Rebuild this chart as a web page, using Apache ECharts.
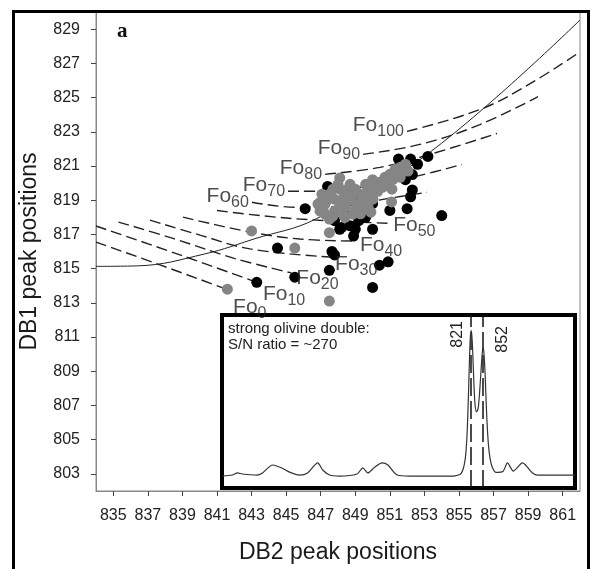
<!DOCTYPE html>
<html>
<head>
<meta charset="utf-8">
<script src="https://cdn.jsdelivr.net/npm/echarts@6/dist/echarts.min.js"></script>
<style>
  html, body { margin: 0; padding: 0; background: #fff; }
  #chart { width: 594px; height: 569px; }
</style>
</head>
<body>
<div id="chart"></div>
<script>
// tick labels
var xTicks = [835, 837, 839, 841, 843, 845, 847, 849, 851, 853, 855, 857, 859, 861];
var yTicks = [803, 805, 807, 809, 811, 813, 815, 817, 819, 821, 823, 825, 827, 829];

// measured olivine points [DB2, DB1]
var blackPts = [
  [853.2, 821.56], [852.2, 821.4], [852.6, 821.1], [851.5, 821.4], [852.3, 820.5],
  [851.9, 820.2], [852.3, 819.6], [852.2, 819.2], [852.0, 818.5], [851.0, 818.4],
  [854.0, 818.1], [850.0, 817.3], [848.9, 816.9], [847.4, 819.8], [846.1, 818.5],
  [844.5, 816.2], [847.65, 816.0], [847.8, 815.8], [850.4, 815.2], [850.9, 815.4],
  [847.5, 814.9], [845.5, 814.5], [843.3, 814.2], [850.0, 813.9],
  [847.8, 817.8], [848.2, 817.4], [848.7, 817.5], [849.2, 817.8], [849.6, 818.0],
  [848.4, 818.2], [850.0, 818.8], [848.1, 817.3], [849.0, 817.3]
];
var grayPts = [
  [848.1, 820.3], [843.0, 817.2], [847.5, 817.1], [845.5, 816.2], [851.1, 818.9],
  [841.6, 813.8], [847.5, 813.1],
  [847.25, 818.77], [847.5, 819.35], [847.8, 819.06], [848.1, 819.64], [848.4, 819.35],
  [848.7, 819.06], [849.0, 819.64], [849.3, 819.35], [849.6, 819.93], [848.4, 818.6],
  [847.8, 818.36], [847.25, 818.18], [849.0, 818.48], [849.6, 818.77], [849.85, 819.35],
  [850.14, 819.76], [850.43, 820.05], [850.72, 820.34], [851.0, 820.51], [851.3, 820.8],
  [851.6, 820.92], [851.9, 821.1], [852.05, 820.7], [851.6, 820.34], [850.9, 819.93],
  [850.3, 819.52], [848.7, 819.93], [848.1, 818.77], [847.5, 817.9], [846.96, 818.36],
  [849.3, 818.2], [850.0, 820.2], [848.4, 818.0], [847.0, 818.9], [849.9, 818.3],
  [847.07, 819.35], [847.42, 819.06], [847.71, 819.64], [848.0, 819.93], [848.29, 819.06],
  [848.58, 819.64], [848.87, 819.35], [849.16, 818.77], [849.45, 819.06], [849.74, 819.64],
  [850.02, 819.06], [846.84, 818.77], [847.13, 818.48], [847.71, 818.07], [848.29, 818.18],
  [848.87, 818.18], [849.45, 818.48], [849.74, 818.59], [850.6, 819.76], [851.18, 820.22],
  [851.47, 820.51], [851.76, 820.69], [851.12, 819.64]
];

// Fo contour curves
var fo0 = [[834.0, 816.55], [837.7, 815.22], [841.64, 813.76]];
var fo10 = [[834.0, 817.49], [838.86, 815.8], [843.37, 814.17]];
var fo20 = [[835.3, 817.72], [838.5, 816.75], [842.0, 815.6], [845.3, 814.75]];
var fo30 = [[837.12, 817.83], [840.02, 816.96], [842.91, 816.15], [847.54, 815.68]];
var fo40 = [[839.03, 818.01], [842.91, 817.14], [845.8, 816.73], [848.98, 816.61]];
var fo50 = [[841.0, 818.4], [843.5, 818.1], [846.5, 817.85], [850.9, 817.65]];
var fo60 = [[843.02, 818.88], [845.51, 818.59], [848.12, 818.65], [851.01, 819.12], [853.15, 819.46]];
var fo70 = [[845.11, 819.52], [847.25, 819.52], [850.43, 819.99], [852.74, 820.45], [855.17, 821.09]];
var fo80 = [[847.25, 820.51], [850.43, 820.92], [853.32, 821.68], [857.2, 822.9]];
var fo90 = [[849.45, 821.68], [852.74, 822.26], [856.21, 823.42], [859.57, 825.05]];
var fo100 = [[851.99, 823.02], [856.21, 824.3], [859.11, 825.81], [862.0, 827.67]];
var foValues = [0, 10, 20, 30, 40, 50, 60, 70, 80, 90, 100];
var foCurves = [fo0, fo10, fo20, fo30, fo40, fo50, fo60, fo70, fo80, fo90, fo100];

// solid reference curve
var solidCurve = [[834.0, 815.13], [836.4, 815.16], [840.3, 815.86], [843.2, 816.75],
  [846.7, 817.89], [853.3, 821.79], [862.0, 829.53]];

// inset spectrum [Raman shift, intensity]
var spectrum = [
  [176, 6.9], [202, 7.5], [215, 8.7], [228, 8.1], [265, 7.5], [280, 8.7], [306, 13.3],
  [330, 11.6], [350, 9.2], [376, 7.5], [397, 8.7], [423, 14.5], [436, 10.4], [454, 7.5],
  [480, 6.9], [525, 8.1], [540, 11.6], [553, 8.7], [571, 12.1], [590, 14.5], [605, 13.3],
  [629, 7.5], [662, 6.9], [774, 6.9], [795, 8.5], [805, 16], [810, 30], [814, 55],
  [817, 78], [819, 88], [821, 91], [823, 87], [825, 78], [828, 60], [831, 48], [835, 44],
  [839, 46], [843, 56], [847, 70], [850, 79], [852, 81], [854, 78], [857, 66], [860, 48],
  [864, 30], [868, 20], [874, 13], [885, 9], [903, 9.5], [915, 14.5], [930, 9.8],
  [954, 14.5], [980, 8.7], [993, 7.5], [1090, 7.5]
];
var peakPositions = [821, 852];

var FONT = '"Liberation Sans", Arial, sans-serif';
var chart = echarts.init(document.getElementById('chart'));

var series = [];
foCurves.forEach(function (c) {
  series.push({
    type: 'line', data: c, smooth: 0.4, symbol: 'none', z: 2,
    lineStyle: { color: '#222', width: 1.4, type: [11, 5] }
  });
});
series.push({
  type: 'line', data: solidCurve, smooth: 0.4, symbol: 'none', z: 2,
  lineStyle: { color: '#222', width: 1 }
});
series.push({
  type: 'scatter', data: blackPts, symbolSize: 11, z: 3,
  itemStyle: { color: '#000', opacity: 1 }
});
series.push({
  type: 'scatter', data: grayPts, symbolSize: 11, z: 4,
  itemStyle: { color: '#858585', opacity: 1 }
});

// Fo labels: low Fo at the right end of the curve (dropped a little), high Fo before the start
var endLabelDrop = [19, 13, 7, 9, 6, 4];
var labelData = foCurves.map(function (c, i) {
  var atEnd = foValues[i] <= 50;
  var p = atEnd ? c[c.length - 1] : c[0];
  return {
    value: p,
    label: {
      position: atEnd ? 'right' : 'left',
      distance: atEnd ? 5 : 3,
      offset: atEnd ? [0, endLabelDrop[i]] : [0, -4],
      formatter: '{f|Fo}{s|' + foValues[i] + '}'
    }
  };
});
series.push({
  type: 'scatter', data: labelData, symbolSize: 0, z: 6, silent: true,
  label: {
    show: true, lineHeight: 25,
    rich: {
      f: { fontSize: 21, lineHeight: 25, verticalAlign: 'top', color: '#222', fontFamily: FONT },
      s: { fontSize: 16, lineHeight: 25, verticalAlign: 'bottom', color: '#222', fontFamily: FONT }
    }
  }
});

// inset spectrum
series.push({
  type: 'line', xAxisIndex: 1, yAxisIndex: 1, data: spectrum, smooth: 0.25,
  symbol: 'none', z: 5,
  lineStyle: { color: '#333', width: 1.2 },
  markLine: {
    silent: true, symbol: ['none', 'none'],
    lineStyle: { color: '#111', width: 1.5, type: [18, 5] },
    label: { fontSize: 16, color: '#222', fontFamily: FONT },
    data: [
      { xAxis: peakPositions[0], label: { position: 'insideEndTop', distance: 6, formatter: String(peakPositions[0]) } },
      { xAxis: peakPositions[1], label: { position: 'insideEndBottom', distance: 11, formatter: String(peakPositions[1]) } }
    ]
  }
});

var axisText = { color: '#222', fontSize: 16, fontFamily: FONT };

chart.setOption({
  animation: false,
  backgroundColor: '#fff',
  grid: [
    { left: 96, right: 14, top: 12, bottom: 76, show: true, borderColor: '#888', borderWidth: 1 },
    { left: 222, top: 315, width: 353, height: 173, show: true, borderColor: '#000', borderWidth: 4, backgroundColor: '#fff' }
  ],
  xAxis: [
    {
      type: 'value', gridIndex: 0, min: 834, max: 862,
      name: 'DB2 peak positions', nameLocation: 'middle', nameGap: 50,
      nameTextStyle: { fontSize: 23, color: '#1a1a1a', fontFamily: FONT },
      axisLine: { lineStyle: { color: '#888' } },
      axisTick: { customValues: xTicks, length: 5, lineStyle: { color: '#444' } },
      axisLabel: Object.assign({ customValues: xTicks, margin: 17 }, axisText),
      splitLine: { show: false }
    },
    { type: 'value', gridIndex: 1, min: 175, max: 1090, show: false }
  ],
  yAxis: [
    {
      type: 'value', gridIndex: 0, min: 802, max: 830,
      name: 'DB1 peak positions', nameLocation: 'middle', nameGap: 55,
      nameTextStyle: { fontSize: 23, color: '#1a1a1a', fontFamily: FONT },
      axisLine: { lineStyle: { color: '#888' } },
      axisTick: { customValues: yTicks, length: 5, lineStyle: { color: '#444' } },
      axisLabel: Object.assign({ customValues: yTicks, margin: 16 }, axisText),
      splitLine: { show: false }
    },
    { type: 'value', gridIndex: 1, min: 0, max: 100, show: false }
  ],
  graphic: [
    {
      type: 'rect', z: 100, silent: true,
      shape: { x: 13.5, y: 11.5, width: 575, height: 600 },
      style: { fill: 'none', stroke: '#000', lineWidth: 3 }
    },
    {
      type: 'text', left: 117, top: 21, z: 100,
      style: { text: 'a', font: 'bold 21px "Liberation Serif", "Times New Roman", serif', fill: '#111' }
    },
    {
      type: 'text', left: 228, top: 321, z: 100,
      style: { text: 'strong olivine double:\nS/N ratio = ~270', font: '15px ' + FONT, lineHeight: 16, fill: '#222' }
    }
  ],
  series: series
});
</script>
</body>
</html>
